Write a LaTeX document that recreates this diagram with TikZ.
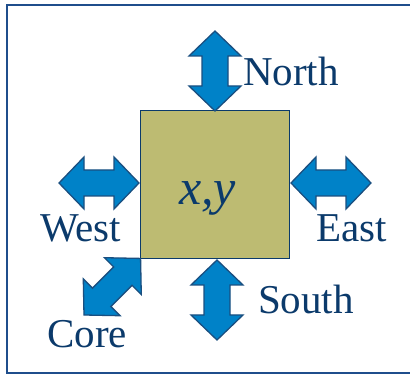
\documentclass[tikz,border=0pt]{standalone}
\usepackage{fontspec}
\setmainfont{Liberation Serif}
\definecolor{navy}{HTML}{0B3A6B}
\definecolor{framecol}{HTML}{1F4E8C}
\definecolor{arrowfill}{HTML}{0082C8}
\definecolor{arrowline}{HTML}{1A4F80}
\definecolor{olive}{HTML}{BDBB72}
\tikzset{
  dblarrow/.pic={
    \path[arrowshape] (0,0) -- (25,26) -- (25,13) -- (55,13) -- (55,26) -- (80,0)
      -- (55,-26) -- (55,-13) -- (25,-13) -- (25,-26) -- cycle;
  },
  arrowshape/.style={fill=arrowfill, draw=arrowline, line width=1.3pt, line join=miter},
  lbl/.style={text=navy, inner sep=0pt, anchor=base west, font=\fontsize{41}{41}\selectfont},
}
\begin{document}
\begin{tikzpicture}[x=1pt,y=1pt]
\useasboundingbox (0,0) rectangle (410,374);
% frame
\draw[framecol, line width=2pt] (410,369) -- (7,369) -- (7,1) -- (410,1);
% central square
\node[draw=navy, fill=olive, line width=1.3pt, minimum width=149pt, minimum height=148pt, inner sep=0pt, anchor=south west] (cell) at (140,115) {};
\node[text=navy, inner sep=0pt, anchor=base west, font=\fontsize{50}{50}\selectfont\itshape] (xy) at (179,169) {x,y};
% arrows
\pic[rotate=90] (northarrow) at (215,263) {dblarrow};
\pic[rotate=90] (southarrow) at (217,34) {dblarrow};
\pic (westarrow) at (59,191) {dblarrow};
\pic (eastarrow) at (291,191) {dblarrow};
\pic[rotate=45] (corearrow) at (84,59) {dblarrow};
% labels
\node[lbl] (north) at (243,288) {North};
\node[lbl] (west) at (40,132) {West};
\node[lbl] (east) at (316,132) {East};
\node[lbl] (south) at (258,60) {South};
\node[lbl] (core) at (47,26) {Core};
\end{tikzpicture}
\end{document}
